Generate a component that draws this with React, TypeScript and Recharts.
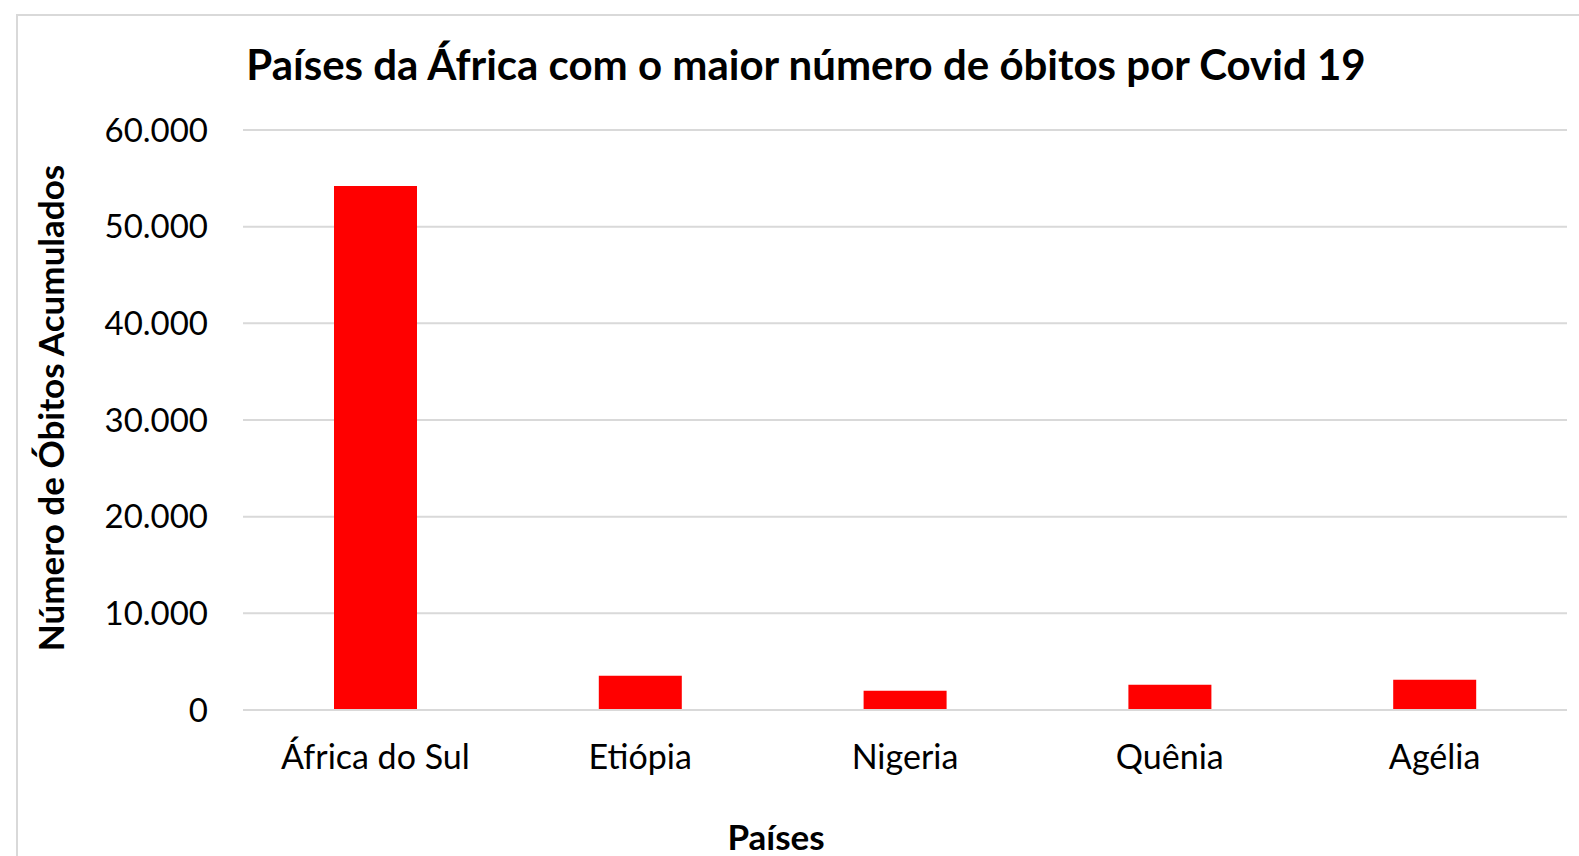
import React from "react";
import { BarChart, Bar, XAxis, YAxis, CartesianGrid } from "recharts";

const paises = ["África do Sul", "Etiópia", "Nigeria", "Quênia", "Agélia"];
const obitos = [54200, 3540, 2000, 2600, 3130];
const yTicks = [0, 10000, 20000, 30000, 40000, 50000, 60000];

const data = paises.map((p, i) => ({ pais: p, obitos: obitos[i] }));

const FONT = "Lato, 'Open Sans', sans-serif";

function fmt(v: number) {
  return String(v).replace(/\B(?=(\d{3})+(?!\d))/g, ".");
}

export default function App() {
  return (
    <div
      style={{
        position: "absolute",
        left: 0,
        top: 0,
        width: 1579,
        height: 856,
        overflow: "hidden",
        background: "#fff",
        fontFamily: FONT,
      }}
    >
      <div
        style={{
          position: "absolute",
          left: 16,
          top: 14,
          width: 1700,
          height: 1000,
          border: "2px solid #d9d9d9",
        }}
      />
      <div
        style={{
          position: "absolute",
          left: 0,
          width: 1612,
          top: 39,
          textAlign: "center",
          fontWeight: 700,
          fontSize: 42,
          color: "#000",
        }}
      >
        Países da África com o maior número de óbitos por Covid 19
      </div>
      <div
        style={{
          position: "absolute",
          left: 50,
          top: 408,
          transform: "translate(-50%, -50%) rotate(-90deg)",
          whiteSpace: "nowrap",
          fontWeight: 700,
          fontSize: 35,
          color: "#000",
        }}
      >
        Número de Óbitos Acumulados
      </div>
      <div
        style={{
          position: "absolute",
          left: 776,
          top: 836,
          transform: "translate(-50%, -50%)",
          fontWeight: 700,
          fontSize: 35,
          color: "#000",
        }}
      >
        Países
      </div>
      <div style={{ position: "absolute", left: 0, top: 0 }}>
        <BarChart
          width={1579}
          height={856}
          data={data}
          margin={{ top: 130, right: 12, bottom: 0, left: 0 }}
        >
          <CartesianGrid
            vertical={false}
            stroke="#d9d9d9"
            strokeWidth={2}
          />
          <XAxis
            dataKey="pais"
            height={146}
            tickLine={false}
            axisLine={{ stroke: "#d9d9d9", strokeWidth: 2 }}
            tickSize={0}
            tickMargin={35}
            tick={{ fill: "#000", fontSize: 34, fontFamily: FONT }}
            interval={0}
          />
          <YAxis
            width={243}
            domain={[0, 60000]}
            ticks={yTicks}
            tickFormatter={fmt}
            tickLine={false}
            axisLine={false}
            tickSize={0}
            tickMargin={35}
            tick={{ fill: "#000", fontSize: 33, fontFamily: FONT }}
          />
          <Bar
            dataKey="obitos"
            fill="#ff0000"
            barSize={83}
            isAnimationActive={false}
          />
        </BarChart>
      </div>
    </div>
  );
}
